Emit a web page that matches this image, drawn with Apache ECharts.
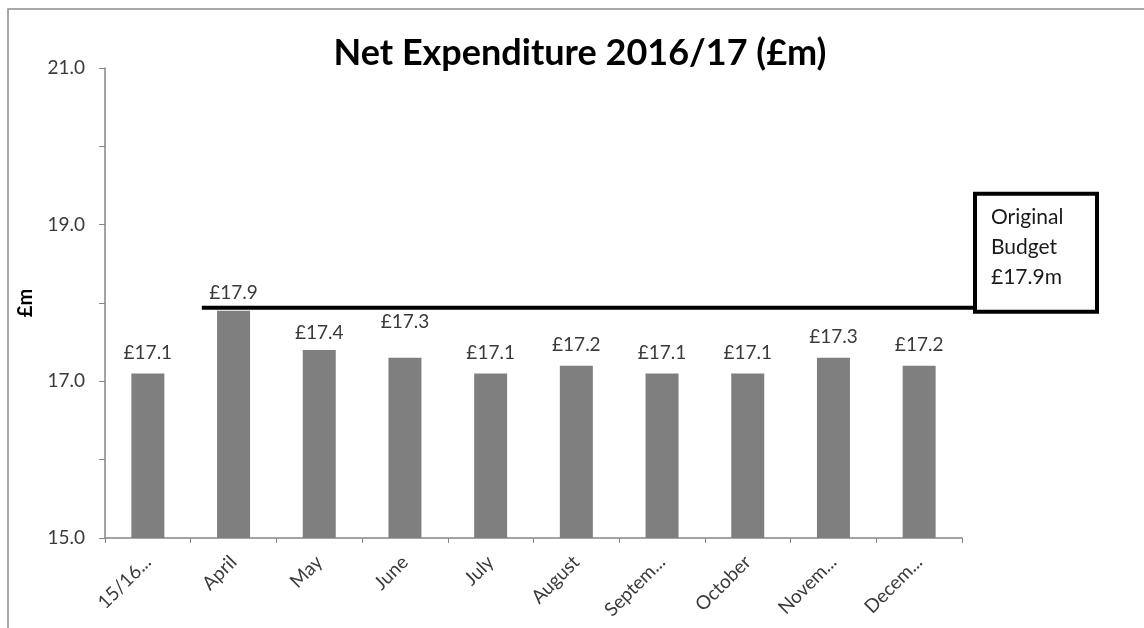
<!DOCTYPE html>
<html>
<head>
<meta charset="utf-8">
<title>Net Expenditure 2016/17</title>
<script src="https://cdn.jsdelivr.net/npm/echarts@6/dist/echarts.min.js"></script>
<style>
  html, body { margin: 0; padding: 0; background: #ffffff; }
  #chart { width: 1144px; height: 628px; }
</style>
</head>
<body>
<div id="chart"></div>
<script>
// Monthly net expenditure, £m
const categories = ['15/16...', 'April', 'May', 'June', 'July', 'August', 'Septem...', 'October', 'Novem...', 'Decem...'];
const netExpenditure = [17.1, 17.9, 17.4, 17.3, 17.1, 17.2, 17.1, 17.1, 17.3, 17.2];
const originalBudget = [17.94];
const yTickLabels = ['15.0', '17.0', '19.0', '21.0'];

const FONT = 'Lato, "Open Sans", sans-serif';
const gray = '#868686';

// plot geometry
const W = 1144;
const plotLeft = 105, plotRight = 182, plotTop = 68, plotBottom = 90;
// the budget line runs a little past the bar plot, up to its annotation box
const budgetRight = 167;
const catWidth = (W - plotLeft - plotRight) / categories.length;
const helperMax = -0.5 + (W - plotLeft - budgetRight) / catWidth;
const budgetStart = 0.63; // in category units, just left of April

// per-bar label nudges (px) where the labels sit higher or lower than usual
const labelNudge = { 1: 3, 2: 3, 3: -15 };

const barData = netExpenditure.map((v, i) => {
  const item = { value: v };
  if (labelNudge[i] !== undefined) {
    item.label = { offset: [0, labelNudge[i]] };
  }
  return item;
});

const chart = echarts.init(document.getElementById('chart'), null, { renderer: 'canvas' });

chart.setOption({
  backgroundColor: '#ffffff',
  animation: false,
  title: {
    text: 'Net Expenditure 2016/17 (£m)',
    left: 575,
    top: 30,
    textAlign: 'center',
    textStyle: { fontFamily: FONT, fontWeight: 'bold', fontSize: 36, color: '#000000' }
  },
  graphic: [{
    type: 'rect',
    shape: { x: 8, y: 9, width: 1300, height: 800 },
    style: { fill: 'none', stroke: '#8c8c8c', lineWidth: 1.5 },
    silent: true,
    z: -1
  }],
  grid: [
    { left: plotLeft, right: plotRight, top: plotTop, bottom: plotBottom, containLabel: false },
    { left: plotLeft, right: budgetRight, top: plotTop, bottom: plotBottom, containLabel: false }
  ],
  xAxis: [{
    type: 'category',
    gridIndex: 0,
    data: categories,
    axisLine: { show: true, onZero: false, lineStyle: { color: gray, width: 1.5 } },
    axisTick: { show: true, length: 5, alignWithLabel: false, lineStyle: { color: gray } },
    axisLabel: {
      rotate: 45,
      margin: 21,
      interval: 0,
      fontFamily: FONT,
      fontSize: 19,
      color: '#3a3a3a'
    },
    splitLine: { show: false }
  }, {
    // hidden helper axis carrying the budget line
    type: 'value',
    gridIndex: 1,
    min: -0.5,
    max: helperMax,
    show: false
  }],
  yAxis: [{
    type: 'value',
    gridIndex: 0,
    min: 15,
    max: 21,
    interval: 1,
    name: '£m',
    nameLocation: 'middle',
    nameRotate: 90,
    nameGap: 69,
    nameTextStyle: { fontFamily: FONT, fontWeight: 'bold', fontSize: 20, color: '#000000' },
    axisLine: { show: true, onZero: false, lineStyle: { color: gray, width: 1.5 } },
    axisTick: { show: true, length: 6, lineStyle: { color: gray } },
    axisLabel: {
      margin: 20,
      fontFamily: FONT,
      fontSize: 19,
      color: '#3a3a3a',
      formatter: (v) => {
        const s = v.toFixed(1);
        return yTickLabels.indexOf(s) >= 0 ? s : '';
      }
    },
    splitLine: { show: false }
  }, {
    type: 'value',
    gridIndex: 1,
    min: 15,
    max: 21,
    show: false
  }],
  series: [{
    type: 'bar',
    name: 'Net Expenditure',
    xAxisIndex: 0,
    yAxisIndex: 0,
    data: barData,
    barWidth: 33,
    itemStyle: { color: '#7f7f7f' },
    label: {
      show: true,
      position: 'top',
      distance: 11,
      fontFamily: FONT,
      fontSize: 19,
      color: '#3a3a3a',
      formatter: (p) => '£' + p.value.toFixed(1)
    },
    z: 2
  }, {
    type: 'line',
    name: 'Original Budget',
    xAxisIndex: 1,
    yAxisIndex: 1,
    data: [[budgetStart, originalBudget[0]], [helperMax, originalBudget[0]]],
    clip: false,
    symbol: 'none',
    lineStyle: { color: '#000000', width: 4 },
    z: 3,
    endLabel: {
      show: true,
      distance: 0,
      align: 'left',
      verticalAlign: 'bottom',
      offset: [0, 2],
      formatter: () => 'Original\nBudget\n£' + originalBudget[0].toFixed(1) + 'm',
      fontFamily: FONT,
      fontSize: 21,
      lineHeight: 30,
      color: '#1a1a1a',
      backgroundColor: '#ffffff',
      borderColor: '#000000',
      borderWidth: 4,
      padding: [7, 0, 17, 14],
      width: 104
    }
  }]
});
</script>
</body>
</html>
